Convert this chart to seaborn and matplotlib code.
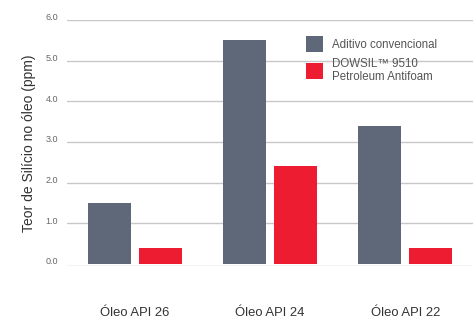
import matplotlib
matplotlib.use("Agg")
import matplotlib.pyplot as plt
import matplotlib.transforms as mtransforms
import seaborn as sns
import pandas as pd

categories = ["Óleo API 26", "Óleo API 24", "Óleo API 22"]
series_names = ["Aditivo convencional", "DOWSIL™ 9510\nPetroleum Antifoam"]
conventional = [1.5, 5.5, 3.4]
dowsil = [0.4, 2.4, 0.4]
y_ticks = [0.0, 1.0, 2.0, 3.0, 4.0, 5.0, 6.0]
y_tick_labels = ["0.0", "1.0", "2.0", "3.0", "4.0", "5.0", "6.0"]
y_label = "Teor de Silício no óleo (ppm)"

df = pd.DataFrame({
    "cat": categories * 2,
    "series": [series_names[0]] * 3 + [series_names[1]] * 3,
    "value": conventional + dowsil,
})

sns.set_theme(style="white")
plt.rcParams["font.family"] = ["Liberation Sans", "DejaVu Sans"]

fig = plt.figure(figsize=(4.75, 3.2), dpi=100)
ax = fig.add_axes([0.141, 0.169, 0.855, 0.7685])

palette = {series_names[0]: "#5f6878", series_names[1]: "#ee1c31"}
sns.barplot(data=df, x="cat", y="value", hue="series", order=categories,
            hue_order=series_names, palette=palette, width=0.754, gap=0.157,
            saturation=1, ax=ax, zorder=3, linewidth=0)

ax.set_xlim(-0.5, 2.5)
ax.set_ylim(-0.05, 6.0)
ax.set_yticks(y_ticks)
ax.set_yticklabels(y_tick_labels)
for y in y_ticks:
    yy = -0.05 if y == 0 else y
    ax.axhline(yy, color="#c8c8c8", linewidth=1.0, zorder=1)

for s in ax.spines.values():
    s.set_visible(False)

ax.tick_params(axis="y", length=0, pad=6.5, labelsize=6.5, labelcolor="#666666")
ax.tick_params(axis="x", length=0, pad=29.5, labelsize=9.4, labelcolor="#333333")
offset = mtransforms.ScaledTranslation(0, 3 / 100, fig.dpi_scale_trans)
for lab in ax.get_yticklabels():
    lab.set_transform(lab.get_transform() + offset)

ax.set_xlabel("")
ax.set_ylabel(y_label, fontsize=10.0, color="#333333", labelpad=7)

handles, labels = ax.get_legend_handles_labels()
leg = ax.legend(handles, labels, loc="upper left",
                bbox_to_anchor=(306 / 475, 1 - 36 / 320), bbox_transform=fig.transFigure,
                frameon=False, fontsize=8.3, handlelength=1.48, handleheight=1.75,
                handletextpad=0.75, labelspacing=0.5, borderpad=0, borderaxespad=0)
for t in leg.get_texts():
    t.set_color("#555555")
    t.set_linespacing(1.15)

fig.savefig("out.png", dpi=100)
